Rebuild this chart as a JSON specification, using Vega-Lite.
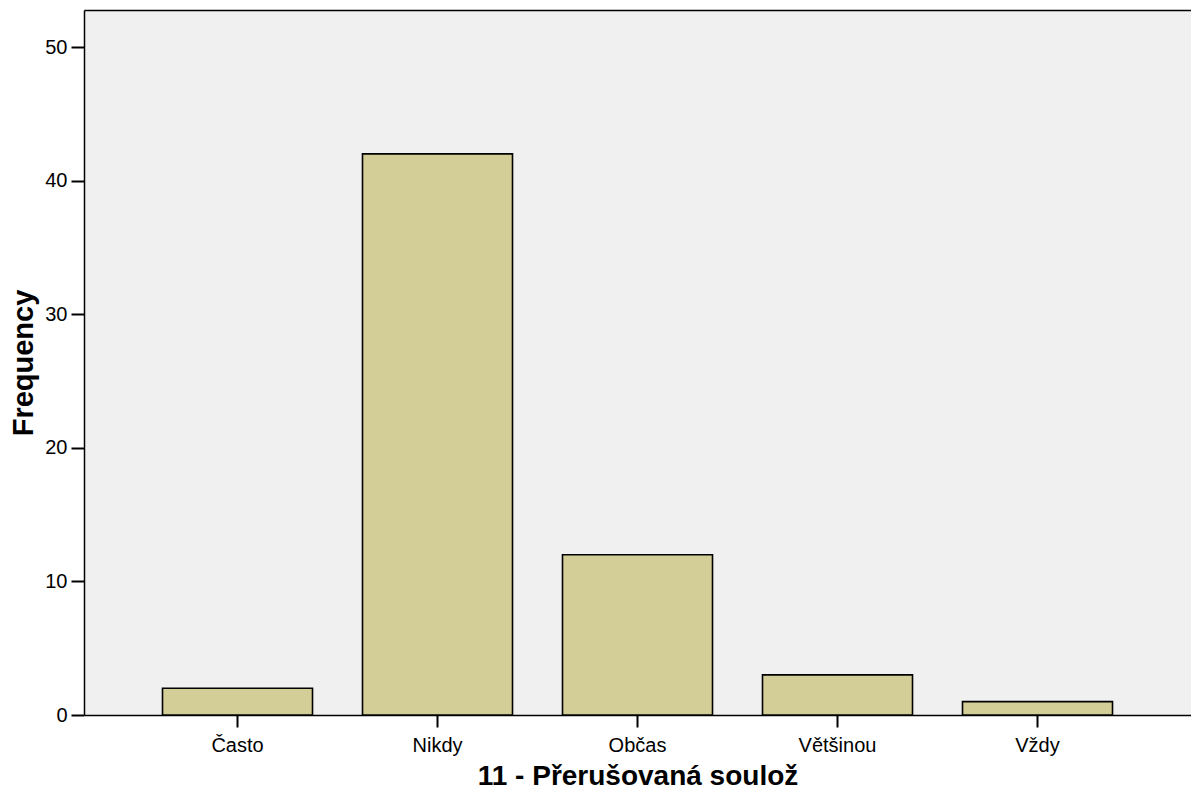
{
  "$schema": "https://vega.github.io/schema/vega-lite/v6.json",
  "autosize": {"type": "none"},
  "padding": {"left": 84, "top": 10, "right": 0, "bottom": 85},
  "width": 1107,
  "height": 705,
  "background": "white",
  "config": {
    "view": {"fill": "#F0F0F0", "stroke": null},
    "font": "Liberation Sans",
    "axis": {
      "grid": false,
      "domainColor": "black",
      "domainWidth": 1.5,
      "tickColor": "black",
      "tickWidth": 2,
      "labelFont": "Liberation Sans",
      "titleFont": "Liberation Sans",
      "labelColor": "black",
      "titleColor": "black",
      "labelFontSize": 20,
      "titleFontSize": 28,
      "titleFontWeight": "bold"
    }
  },
  "data": {
    "values": [
      {"kategorie": "Často", "pocet": 2},
      {"kategorie": "Nikdy", "pocet": 42},
      {"kategorie": "Občas", "pocet": 12},
      {"kategorie": "Většinou", "pocet": 3},
      {"kategorie": "Vždy", "pocet": 1}
    ]
  },
  "layer": [
    {
      "mark": {"type": "bar", "fill": "#D3CE98", "stroke": "black", "strokeWidth": 1.6},
      "encoding": {
        "x": {
          "field": "kategorie",
          "type": "nominal",
          "sort": ["Často", "Nikdy", "Občas", "Většinou", "Vždy"],
          "scale": {"paddingInner": 0.25, "paddingOuter": 0.3925},
          "axis": {
            "title": "11 - Přerušovaná soulož",
            "labelAngle": 0,
            "tickSize": 12,
            "labelPadding": 8,
            "titlePadding": 7
          }
        },
        "y": {
          "field": "pocet",
          "type": "quantitative",
          "scale": {"domain": [0, 52.77], "nice": false},
          "axis": {
            "title": "Frequency",
            "values": [0, 10, 20, 30, 40, 50],
            "tickSize": 13,
            "labelPadding": 4,
            "titlePadding": 6,
            "titleFontSize": 29
          }
        }
      }
    },
    {
      "mark": {"type": "bar", "fillOpacity": 0, "strokeOpacity": 0},
      "encoding": {
        "x": {
          "field": "kategorie",
          "type": "nominal",
          "sort": ["Často", "Nikdy", "Občas", "Většinou", "Vždy"],
          "axis": {"orient": "top", "title": null, "labels": false, "ticks": false, "domain": true}
        },
        "y": {"field": "pocet", "type": "quantitative"}
      }
    }
  ],
  "resolve": {"axis": {"x": "independent"}}
}
